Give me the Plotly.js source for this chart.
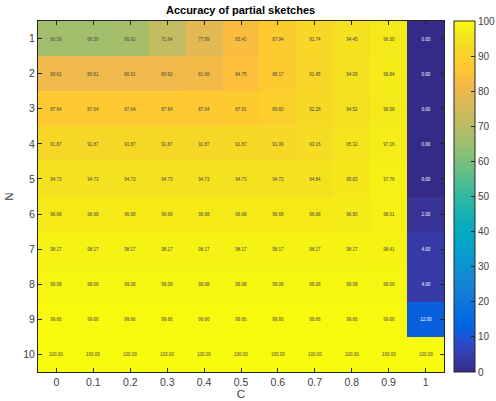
<!DOCTYPE html>
<html>
<head>
<meta charset="utf-8">
<script src="https://cdn.plot.ly/plotly-3.0.1.min.js"></script>
<style>html,body{margin:0;padding:0;background:#fff;}#chart{width:496px;height:401px;}</style>
</head>
<body>
<div id="chart"></div>
<script>
// Data
const C_values = [0, 0.1, 0.2, 0.3, 0.4, 0.5, 0.6, 0.7, 0.8, 0.9, 1];
const C_labels = ['0', '0.1', '0.2', '0.3', '0.4', '0.5', '0.6', '0.7', '0.8', '0.9', '1'];
const N_values = [1, 2, 3, 4, 5, 6, 7, 8, 9, 10];
const row1 = [66.39, 66.39, 66.92, 71.64, 77.89, 83.41, 87.94, 91.74, 94.45, 96.60, 0.00];
const row2 = [80.61, 80.61, 80.61, 80.62, 81.66, 84.75, 88.17, 91.45, 94.09, 96.84, 0.00];
const row3 = [87.64, 87.64, 87.64, 87.64, 87.64, 87.91, 89.60, 92.28, 94.52, 96.58, 0.00];
const row4 = [91.87, 91.87, 91.87, 91.87, 91.87, 91.87, 91.99, 93.16, 95.32, 97.16, 0.00];
const row5 = [94.73, 94.73, 94.73, 94.73, 94.73, 94.73, 94.73, 94.84, 95.83, 97.76, 0.00];
const row6 = [96.68, 96.68, 96.68, 96.68, 96.68, 96.68, 96.68, 96.68, 96.80, 98.01, 2.00];
const row7 = [98.17, 98.17, 98.17, 98.17, 98.17, 98.17, 98.17, 98.17, 98.17, 98.41, 4.00];
const row8 = [99.08, 99.08, 99.08, 99.08, 99.08, 99.08, 99.08, 99.08, 99.08, 99.09, 4.00];
const row9 = [99.66, 99.66, 99.66, 99.66, 99.66, 99.66, 99.66, 99.66, 99.66, 99.66, 12.00];
const row10 = [100.00, 100.00, 100.00, 100.00, 100.00, 100.00, 100.00, 100.00, 100.00, 100.00, 100.00];
const colorbarTicks = [0, 10, 20, 30, 40, 50, 60, 70, 80, 90, 100];

// MATLAB parula (64 entries)
const parula = [[0.2081,0.1663,0.5292],[0.2116,0.1898,0.5777],[0.2123,0.2138,0.6270],[0.2081,0.2386,0.6771],[0.1959,0.2645,0.7279],[0.1707,0.2919,0.7792],[0.1253,0.3242,0.8303],[0.0591,0.3598,0.8683],[0.0117,0.3875,0.8820],[0.0060,0.4086,0.8828],[0.0165,0.4266,0.8786],[0.0329,0.4430,0.8720],[0.0498,0.4586,0.8641],[0.0629,0.4737,0.8554],[0.0723,0.4887,0.8467],[0.0779,0.5040,0.8384],[0.0793,0.5200,0.8312],[0.0749,0.5375,0.8263],[0.0641,0.5570,0.8240],[0.0488,0.5772,0.8228],[0.0343,0.5966,0.8199],[0.0265,0.6137,0.8135],[0.0239,0.6287,0.8038],[0.0231,0.6418,0.7913],[0.0228,0.6535,0.7768],[0.0267,0.6642,0.7607],[0.0384,0.6743,0.7436],[0.0590,0.6838,0.7254],[0.0843,0.6928,0.7062],[0.1133,0.7015,0.6859],[0.1453,0.7098,0.6646],[0.1801,0.7177,0.6424],[0.2178,0.7250,0.6193],[0.2586,0.7317,0.5954],[0.3022,0.7376,0.5712],[0.3482,0.7424,0.5473],[0.3953,0.7459,0.5244],[0.4420,0.7481,0.5033],[0.4871,0.7491,0.4840],[0.5300,0.7491,0.4661],[0.5709,0.7485,0.4494],[0.6099,0.7473,0.4337],[0.6473,0.7456,0.4188],[0.6834,0.7435,0.4044],[0.7184,0.7411,0.3905],[0.7525,0.7384,0.3768],[0.7858,0.7356,0.3633],[0.8185,0.7327,0.3498],[0.8507,0.7299,0.3360],[0.8824,0.7274,0.3217],[0.9139,0.7258,0.3063],[0.9450,0.7261,0.2886],[0.9739,0.7314,0.2666],[0.9938,0.7455,0.2403],[0.9990,0.7653,0.2164],[0.9955,0.7861,0.1967],[0.9880,0.8066,0.1794],[0.9789,0.8271,0.1633],[0.9697,0.8481,0.1475],[0.9626,0.8705,0.1309],[0.9589,0.8949,0.1132],[0.9598,0.9218,0.0948],[0.9661,0.9514,0.0755],[0.9763,0.9831,0.0538]];
const colorscale = parula.map((c, i) => [i / (parula.length - 1),
  'rgb(' + Math.round(c[0]*255) + ',' + Math.round(c[1]*255) + ',' + Math.round(c[2]*255) + ')']);

const z = [row1, row2, row3, row4, row5, row6, row7, row8, row9, row10];
const fontFam = '"Liberation Sans", Arial, Helvetica, sans-serif';
const axColor = '#262626';

const trace = {
  type: 'heatmap',
  x: C_values,
  y: N_values,
  z: z,
  zmin: 0,
  zmax: 100,
  colorscale: colorscale,
  texttemplate: '%{z:.2f}',
  textfont: {size: 4.5, family: fontFam},
  xgap: 0, ygap: 0,
  hoverinfo: 'x+y+z',
  colorbar: {
    x: 1.0246, xanchor: 'left', xref: 'paper',
    y: 0.5, yanchor: 'middle', len: 1, lenmode: 'fraction',
    thickness: 21, thicknessmode: 'pixels',
    outlinecolor: axColor, outlinewidth: 1,
    tickvals: colorbarTicks,
    ticks: 'inside', ticklen: 4, tickcolor: axColor,
    tickfont: {size: 10, color: '#404040', family: fontFam},
    xpad: 0, ypad: 0
  }
};

const layout = {
  width: 496, height: 401,
  margin: {l: 38, r: 52, t: 21, b: 29, autoexpand: false},
  paper_bgcolor: '#fff', plot_bgcolor: '#fff',
  font: {family: fontFam, color: axColor},
  title: {
    text: '<b>Accuracy of partial sketches</b>',
    font: {size: 11, color: '#000', family: fontFam},
    x: 0.485, xanchor: 'center', xref: 'container',
    y: 0.974, yanchor: 'middle', yref: 'container'
  },
  xaxis: {
    tickvals: C_values, ticktext: C_labels,
    range: [-0.05, 1.05],
    ticks: 'inside', ticklen: 4, tickcolor: axColor,
    showline: true, linecolor: axColor, linewidth: 1, mirror: 'allticks',
    showgrid: false, zeroline: false,
    tickfont: {size: 10.5, color: '#404040'},
    title: {text: 'C', font: {size: 11.5, color: '#404040'}, standoff: 3},
    automargin: false
  },
  yaxis: {
    tickvals: N_values,
    range: [10.5, 0.5],
    ticks: 'inside', ticklen: 4, tickcolor: axColor,
    showline: true, linecolor: axColor, linewidth: 1, mirror: 'allticks',
    showgrid: false, zeroline: false,
    tickfont: {size: 10.5, color: '#404040'},
    title: {text: 'N', font: {size: 11.5, color: '#404040'}, standoff: 7},
    automargin: false
  }
};

Plotly.newPlot('chart', [trace], layout, {staticPlot: true, displayModeBar: false});
</script>
</body>
</html>
